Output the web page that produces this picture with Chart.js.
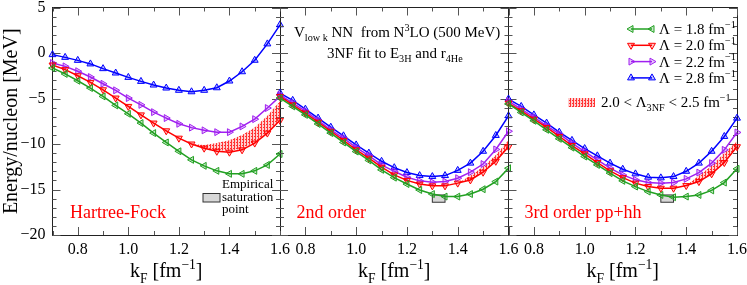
<!DOCTYPE html>
<html>
<head>
<meta charset="utf-8">
<script src="https://cdn.jsdelivr.net/npm/chart.js@4"></script>
<style>
  body { margin: 0; background: #fff; }
  #wrap { position: relative; width: 747px; height: 285px; }
  #wrap canvas { position: absolute; left: 0; top: 0; }
</style>
</head>
<body>
<div id="wrap">
  <canvas id="c1" width="747" height="285"></canvas>
  <canvas id="c2" width="747" height="285"></canvas>
  <canvas id="c3" width="747" height="285"></canvas>
</div>
<script>
// k_F grid [fm^-1]
const kF = [0.70, 0.75, 0.80, 0.85, 0.90, 0.95, 1.00, 1.05, 1.10, 1.15, 1.20, 1.25, 1.30, 1.35, 1.40, 1.45, 1.50, 1.55, 1.60];

// Hartree-Fock
const hf18 = [-1.65, -2.3, -3.05, -3.85, -4.77, -5.76, -6.68, -7.7, -8.8, -9.83, -10.8, -11.74, -12.4, -12.95, -13.28, -13.28, -12.95, -12.3, -11.1];
const hf20 = [-1.32, -1.83, -2.5, -3.23, -4.04, -4.95, -5.87, -6.8, -7.7, -8.55, -9.36, -10.0, -10.46, -10.8, -10.9, -10.64, -9.9, -8.8, -7.4];
const hf22 = [-1.1, -1.47, -2.0, -2.64, -3.38, -4.1, -4.95, -5.7, -6.5, -7.15, -7.78, -8.2, -8.5, -8.7, -8.7, -8.07, -7.27, -6.05, -4.77];
const hf28 = [-0.18, -0.48, -0.81, -1.2, -1.72, -2.2, -2.68, -3.12, -3.52, -3.85, -4.1, -4.26, -4.1, -3.82, -3.08, -2.06, -0.8, 1.0, 3.1];

// 2nd order
const so18 = [-4.95, -5.87, -6.8, -7.8, -8.8, -9.83, -10.83, -11.8, -12.84, -13.7, -14.4, -15.05, -15.5, -15.78, -15.78, -15.5, -14.97, -14.13, -12.66];
const so20 = [-4.77, -5.7, -6.6, -7.6, -8.6, -9.6, -10.64, -11.56, -12.55, -13.4, -14.0, -14.4, -14.6, -14.6, -14.3, -13.95, -13.1, -11.9, -10.3];
const so22 = [-4.6, -5.5, -6.4, -7.4, -8.44, -9.36, -10.4, -11.27, -12.3, -13.0, -13.65, -14.05, -14.2, -14.13, -13.76, -13.1, -12.2, -10.6, -8.6];
const so28 = [-4.4, -5.2, -6.17, -7.15, -8.15, -9.1, -10.1, -11.0, -11.9, -12.6, -13.14, -13.47, -13.58, -13.47, -12.9, -12.1, -10.8, -9.06, -6.9];

// 3rd order pp+hh
const to18 = [-5.6, -6.53, -7.45, -8.44, -9.43, -10.4, -11.38, -12.3, -13.2, -14.05, -14.68, -15.23, -15.6, -15.85, -15.78, -15.6, -15.1, -14.24, -12.73];
const to20 = [-5.5, -6.35, -7.27, -8.18, -9.17, -10.17, -11.08, -12.04, -12.95, -13.7, -14.3, -14.68, -14.86, -14.86, -14.57, -14.13, -13.28, -12.04, -10.3];
const to22 = [-5.3, -6.17, -7.05, -8.0, -8.9, -9.9, -10.83, -11.74, -12.66, -13.4, -13.94, -14.24, -14.3, -14.24, -13.83, -13.14, -12.1, -10.64, -8.73];
const to28 = [-5.06, -5.87, -6.8, -7.7, -8.7, -9.6, -10.5, -11.3, -12.1, -12.77, -13.28, -13.65, -13.72, -13.58, -13.0, -12.1, -10.8, -9.17, -7.16];

// 2.0 < Lambda_3NF < 2.5 band
const bandKF1 = [1.25, 1.30, 1.35, 1.40, 1.45, 1.50, 1.55, 1.60];
const hfBandLo = [-10.0, -10.45, -10.7, -10.75, -10.5, -9.8, -8.7, -7.3];
const hfBandHi = [-10.0, -10.1, -9.9, -9.6, -9.0, -8.2, -6.9, -5.3];
const bandKF23 = [1.40, 1.45, 1.50, 1.55, 1.60];
const soBandLo = [-14.3, -13.95, -13.1, -11.9, -10.3];
const soBandHi = [-14.3, -13.5, -12.5, -11.2, -9.6];
const toBandLo = [-14.57, -14.13, -13.28, -12.04, -10.3];
const toBandHi = [-14.57, -13.5, -12.4, -11.0, -9.7];

// empirical saturation point
const satKF = [1.30, 1.35];
const satE = [-16.4, -15.6];

const lambdas = ["1.8", "2.0", "2.2", "2.8"];
const yTicks = [5, 0, -5, -10, -15, -20];

const SERIF = "'Liberation Serif', 'DejaVu Serif', serif";
Chart.defaults.font.family = SERIF;
Chart.defaults.color = "#000";

const STY = [
  { color: "#22a022", fill: "rgba(34,160,34,0.25)", rot: -90 },
  { color: "#ff0000", fill: "rgba(255,0,0,0.25)", rot: 180 },
  { color: "#a020f0", fill: "rgba(160,32,240,0.25)", rot: 90 },
  { color: "#0000ff", fill: "rgba(0,0,255,0.25)", rot: 0 },
];

function hatch() {
  const c = document.createElement("canvas");
  c.width = 3; c.height = 3;
  const g = c.getContext("2d");
  g.fillStyle = "rgba(255,120,120,0.35)";
  g.fillRect(0, 0, 3, 3);
  g.fillStyle = "rgba(255,0,0,0.75)";
  g.fillRect(0, 0, 1, 3);
  g.fillRect(2, 1, 1, 1);
  return g.createPattern(c, "repeat");
}
const HATCH = hatch();

const pts = (xs, ys) => xs.map((x, i) => ({ x, y: ys[i] }));

// text with sub/superscript pieces: [text, "n"|"sub"|"sup"]
function rich(ctx, x, y, parts, size, color) {
  ctx.save();
  ctx.fillStyle = color || "#000";
  ctx.textBaseline = "alphabetic";
  ctx.textAlign = "left";
  for (const [t, k] of parts) {
    const s = k === "n" ? size : size * 0.68;
    const dy = k === "sub" ? size * 0.28 : k === "sup" ? -size * 0.42 : 0;
    ctx.font = s + "px " + SERIF;
    ctx.fillText(t, x, y + dy);
    x += ctx.measureText(t).width;
  }
  ctx.restore();
  return x;
}
function richWidth(ctx, parts, size) {
  let w = 0;
  ctx.save();
  for (const [t, k] of parts) {
    ctx.font = (k === "n" ? size : size * 0.68) + "px " + SERIF;
    w += ctx.measureText(t).width;
  }
  ctx.restore();
  return w;
}

function seg(ctx, x1, y1, x2, y2) {
  ctx.beginPath(); ctx.moveTo(x1, y1); ctx.lineTo(x2, y2); ctx.stroke();
}

function triangle(ctx, x, y, r, rot, st) {
  ctx.save();
  ctx.translate(x, y);
  ctx.rotate(rot * Math.PI / 180);
  ctx.beginPath();
  ctx.moveTo(0, -r);
  ctx.lineTo(r * 0.866, r * 0.5);
  ctx.lineTo(-r * 0.866, r * 0.5);
  ctx.closePath();
  ctx.fillStyle = st.fill; ctx.fill();
  ctx.strokeStyle = st.color; ctx.lineWidth = 1; ctx.stroke();
  ctx.restore();
}

// inward tick marks on all four sides
function drawTicks(chart) {
  const ctx = chart.ctx, xs = chart.scales.x, ys = chart.scales.y;
  const a = chart.chartArea;
  ctx.save();
  ctx.setLineDash([]);
  ctx.globalAlpha = 1;
  ctx.globalCompositeOperation = "source-over";
  ctx.strokeStyle = "#555";
  ctx.lineWidth = 1;
  for (let v = -20; v <= 5; v++) {
    const y = Math.round(ys.getPixelForValue(v)) + 0.5;
    const len = v % 5 === 0 ? 8 : 4;
    seg(ctx, a.left, y, a.left + len, y);
    seg(ctx, a.right, y, a.right - len, y);
  }
  for (let i = 7; i <= 16; i++) {
    const x = Math.round(xs.getPixelForValue(i / 10)) + 0.5;
    const len = i % 2 === 0 ? 8 : 4;
    seg(ctx, x, a.bottom, x, a.bottom - len);
    seg(ctx, x, a.top, x, a.top + len);
  }
  ctx.restore();
}

const decor = {
  id: "decor",
  beforeDatasetsDraw(chart, args, o) {
    drawTicks(chart);
    if (!o.sat) return;
    const ctx = chart.ctx, xs = chart.scales.x, ys = chart.scales.y;
    const x1 = xs.getPixelForValue(satKF[0]), x2 = xs.getPixelForValue(satKF[1]);
    const y1 = ys.getPixelForValue(satE[1]), y2 = ys.getPixelForValue(satE[0]);
    ctx.save();
    ctx.fillStyle = "#d8d8d8"; ctx.fillRect(x1, y1, x2 - x1, y2 - y1);
    ctx.strokeStyle = "#333"; ctx.lineWidth = 1; ctx.strokeRect(x1, y1, x2 - x1, y2 - y1);
    ctx.restore();
  },
  afterDraw(chart, args, o) {
    const ctx = chart.ctx;
    const { left, right } = chart.chartArea;

    // panel label
    rich(ctx, left + o.labelDx, 218, [[o.label, "n"]], 18, "#ff0000");

    // x title
    const tp = [["k", "n"], ["F", "sub"], [" [fm", "n"], ["\u22121", "sup"], ["]", "n"]];
    const tw = richWidth(ctx, tp, 20);
    rich(ctx, (left + right) / 2 - tw / 2, 277, tp, 20);

    if (o.panel === 0) {
      ctx.save();
      ctx.fillStyle = "#d8d8d8"; ctx.fillRect(203, 193.5, 17, 8.5);
      ctx.strokeStyle = "#333"; ctx.strokeRect(203, 193.5, 17, 8.5);
      ctx.restore();
      rich(ctx, 222, 188, [["Empirical", "n"]], 13);
      rich(ctx, 222, 201, [["saturation", "n"]], 13);
      rich(ctx, 222, 213, [["point", "n"]], 13);
    }
    if (o.panel === 1) {
      rich(ctx, 294, 37, [["V", "n"], ["low k", "sub"], [" NN  from N", "n"], ["3", "sup"], ["LO (500 MeV)", "n"]], 15);
      rich(ctx, 327, 58, [["3NF fit to E", "n"], ["3H", "sub"], [" and r", "n"], ["4He", "sub"]], 15);
    }
    if (o.panel === 2) {
      ctx.save();
      lambdas.forEach((lam, i) => {
        const y = 29 + i * 16.3, st = STY[i];
        ctx.strokeStyle = st.color; ctx.lineWidth = 1.5;
        seg(ctx, 631, y, 652, y);
        triangle(ctx, 631, y, 4, st.rot, st);
        triangle(ctx, 652, y, 4, st.rot, st);
        rich(ctx, 659, y + 5, [["\u039b = " + lam + " fm", "n"], ["\u22121", "sup"]], 15);
      });
      ctx.fillStyle = HATCH;
      ctx.fillRect(568, 98, 27, 9);
      ctx.restore();
      rich(ctx, 601, 107, [["2.0 < \u039b", "n"], ["3NF", "sub"], [" < 2.5 fm", "n"], ["\u22121", "sup"]], 15);
    }
  },
};

const BORDER = { display: true, color: "#222", width: 1 };

function makePanel(id, panel, series, bx, bLo, bHi, label, labelDx) {
  const left = [0, 280, 508.5][panel];
  const right = 747 - [280, 508.5, 737][panel];
  const datasets = series.map((s, i) => ({
    data: pts(kF, s),
    borderColor: STY[i].color,
    borderWidth: 1.5,
    pointStyle: "triangle",
    pointRotation: STY[i].rot,
    pointRadius: 4,
    pointBorderWidth: 1,
    pointBorderColor: STY[i].color,
    pointBackgroundColor: STY[i].fill,
    clip: false,
  }));
  datasets.push({ data: pts(bx, bLo), borderWidth: 0, pointRadius: 0, fill: false, borderColor: "rgba(0,0,0,0)" });
  datasets.push({ data: pts(bx, bHi), borderWidth: 0, pointRadius: 0, fill: "-1", backgroundColor: HATCH, borderColor: "rgba(0,0,0,0)" });

  return new Chart(document.getElementById(id), {
    type: "line",
    data: { datasets },
    options: {
      responsive: false,
      animation: false,
      events: [],
      layout: { padding: { left, right, top: 7.5, bottom: 0 } },
      plugins: {
        legend: { display: false },
        tooltip: { enabled: false },
        decor: { panel, label, labelDx, sat: panel > 0 },
      },
      scales: {
        x: {
          type: "linear",
          position: "bottom",
          min: 0.7, max: 1.6,
          grid: { display: false, drawTicks: false },
          border: BORDER,
          ticks: {
            stepSize: 0.1, autoSkip: false, maxRotation: 0, padding: 5,
            font: { size: 16 },
            callback: (v) => { const r = Math.round(v * 10); return r % 2 === 0 ? (r / 10).toFixed(1) : ""; },
          },
          afterFit: (s) => { s.height = 50; s.paddingLeft = 0; s.paddingRight = 0; },
        },
        xTop: {
          type: "linear",
          position: "top",
          min: 0.7, max: 1.6,
          grid: { display: false, drawTicks: false },
          border: BORDER,
          ticks: { display: false },
          afterFit: (s) => { s.height = 0; s.paddingLeft = 0; s.paddingRight = 0; },
        },
        y: {
          type: "linear",
          position: "left",
          min: -20, max: 5,
          grid: { display: false, drawTicks: false },
          border: BORDER,
          title: { display: panel === 0, text: "Energy/nucleon [MeV]", font: { size: 20 }, padding: { top: 0, bottom: 0 } },
          ticks: {
            display: panel === 0,
            stepSize: 5, padding: 7, font: { size: 16 },
            callback: (v) => (yTicks.includes(v) ? String(v).replace("-", "\u2212") : ""),
          },
          afterFit: (s) => { s.width = panel === 0 ? 52.5 : 0; s.paddingTop = 0; s.paddingBottom = 0; },
        },
        yRight: {
          type: "linear",
          position: "right",
          min: -20, max: 5,
          grid: { display: false, drawTicks: false },
          border: BORDER,
          ticks: { display: false },
          afterFit: (s) => { s.width = 0; s.paddingTop = 0; s.paddingBottom = 0; },
        },
      },
    },
    plugins: [decor],
  });
}

makePanel("c1", 0, [hf18, hf20, hf22, hf28], bandKF1, hfBandLo, hfBandHi, "Hartree-Fock", 17.5);
makePanel("c2", 1, [so18, so20, so22, so28], bandKF23, soBandLo, soBandHi, "2nd order", 16.5);
makePanel("c3", 2, [to18, to20, to22, to28], bandKF23, toBandLo, toBandHi, "3rd order pp+hh", 16);
</script>
</body>
</html>
